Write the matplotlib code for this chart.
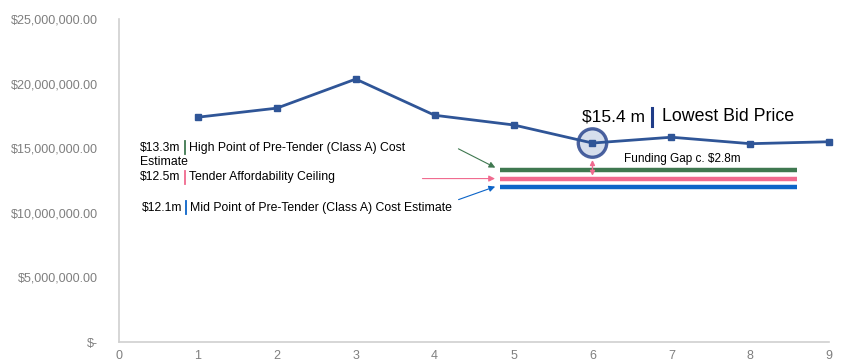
import matplotlib.pyplot as plt
from matplotlib.patches import Ellipse
from matplotlib.ticker import FuncFormatter

plt.rcParams['font.family'] = ['Liberation Sans', 'DejaVu Sans']

# bids (x index) and bid prices
bid_no = [1, 2, 3, 4, 5, 6, 7, 8, 9]
bid_price = [17.4e6, 18.1e6, 20.35e6, 17.55e6, 16.8e6, 15.4e6, 15.85e6, 15.35e6, 15.5e6]

# reference levels (drawn where they sit in the picture)
ref_names = ['High Point of Pre-Tender (Class A) Cost',
             'Tender Affordability Ceiling',
             'Mid Point of Pre-Tender (Class A) Cost Estimate']
ref_values = [13.3e6, 12.65e6, 12.0e6]
ref_labels = ['$13.3m', '$12.5m', '$12.1m']
ref_colors = ['#3F7850', '#F06A8F', '#0C64C8']
ref_x = [4.83, 8.59]

lowest_idx = 5
gray = '#7F7F7F'
line_col = '#2F5597'

fig = plt.figure(figsize=(8.47, 3.64), dpi=100)
ax = fig.add_axes([0.1405, 0.0604, 0.8385, 0.8874])

ax.plot(bid_no, bid_price, color=line_col, linewidth=2, marker='s', markersize=5,
        zorder=5, clip_on=False)

for v, c in zip(ref_values, ref_colors):
    ax.plot(ref_x, [v, v], color=c, linewidth=3.2, solid_capstyle='butt', zorder=2)

ax.set_xlim(0, 9)
ax.set_ylim(0, 25e6)
ax.set_xticks(range(10))
ax.set_yticks([0, 5e6, 10e6, 15e6, 20e6, 25e6])
ax.yaxis.set_major_formatter(FuncFormatter(lambda v, p: '$-' if v == 0 else '${:,.2f}'.format(v)))
ax.tick_params(length=0, labelsize=9, colors=gray)
ax.tick_params(axis='y', pad=15)
ax.tick_params(axis='x', pad=6)
for s in ['top', 'right']:
    ax.spines[s].set_visible(False)
for s in ['left', 'bottom']:
    ax.spines[s].set_color('#D0D0D0')
    ax.spines[s].set_linewidth(1.2)

# circle around lowest bid
xl, yl = bid_no[lowest_idx], bid_price[lowest_idx]
circ = Ellipse((xl, yl), width=0.36, height=2.2e6, facecolor='#CCD6E8', alpha=0.8,
               edgecolor='#1F3C88', linewidth=2.4, zorder=4)
ax.add_patch(circ)

ax.text(5.87, 17.45e6, '$15.4 m', fontsize=12.5, ha='left', va='center', color='black')
ax.plot([6.755, 6.755], [16.75e6, 18.15e6], color='#1F3C88', linewidth=2.2, clip_on=False)
ax.text(6.88, 17.45e6, 'Lowest Bid Price', fontsize=12.8, ha='left', va='center', color='black')

# funding gap arrow
ax.annotate('', xy=(xl, ref_values[1]), xytext=(xl, yl - 1.1e6),
            arrowprops=dict(arrowstyle='<|-|>', color='#F06A8F', lw=1, mutation_scale=7),
            zorder=6)
ax.text(6.4, 14.2e6, 'Funding Gap c. $2.8m', fontsize=8.5, ha='left', va='center', color='black')

# left labels
label_y = [15.05e6, 12.75e6, 10.4e6]
label_x = [0.27, 0.27, 0.29]
bar_x = [0.835, 0.835, 0.855]
for i in range(3):
    ax.text(label_x[i], label_y[i], ref_labels[i], fontsize=8.7, ha='left', va='center')
    ax.plot([bar_x[i], bar_x[i]], [label_y[i] - 0.5e6, label_y[i] + 0.5e6],
            color=ref_colors[i], linewidth=1.3)
    ax.text(bar_x[i] + 0.05, label_y[i], ref_names[i], fontsize=8.8, ha='left', va='center')
ax.text(label_x[0], 13.9e6, 'Estimate', fontsize=8.8, ha='left', va='center')

# arrows to the lines
arrow_start = [(4.27, 15.05e6), (3.81, ref_values[1]), (4.27, 10.95e6)]
arrow_end = [(4.8, ref_values[0] + 0.1e6), (4.8, ref_values[1]), (4.8, ref_values[2] + 0.1e6)]
for s, e, c in zip(arrow_start, arrow_end, ref_colors):
    ax.annotate('', xy=e, xytext=s,
                arrowprops=dict(arrowstyle='-|>', color=c, lw=0.8, mutation_scale=9))

fig.savefig('out.png', dpi=100)
